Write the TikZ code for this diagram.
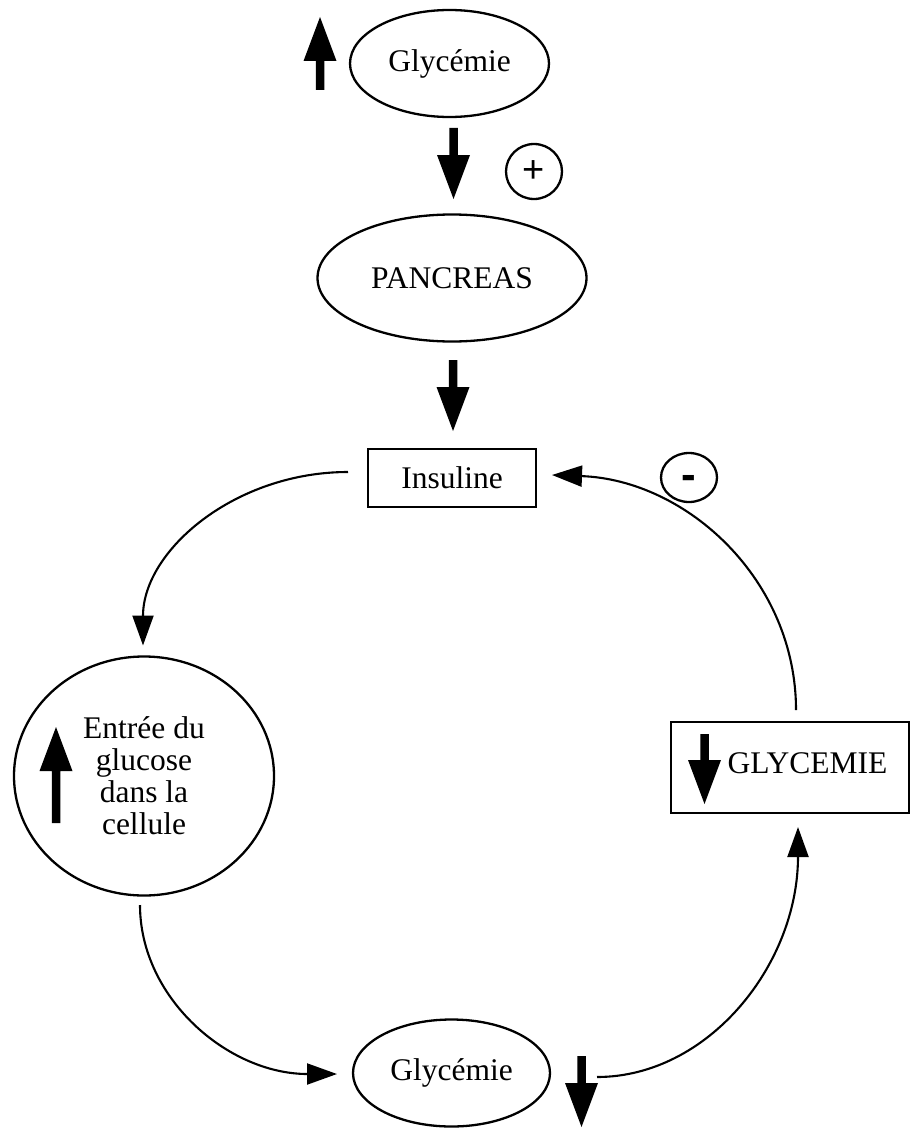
\documentclass[tikz,border=0pt]{standalone}
\usepackage{fontspec}
\setmainfont{Liberation Serif}
\newfontfamily\signfont{Liberation Sans}
\usetikzlibrary{shapes.geometric,arrows.meta,calc}
% thick glyph arrows: x, tail y, tip y
\newcommand\fatdown[3]{\fill (#1-4.25,#2) -- (#1+4.25,#2) -- (#1+4.25,#3-44) -- (#1+16.5,#3-44) -- (#1,#3) -- (#1-16.5,#3-44) -- (#1-4.25,#3-44) -- cycle;}
\newcommand\fatup[3]{\fill (#1-4.25,#2) -- (#1+4.25,#2) -- (#1+4.25,#3+44) -- (#1+16.5,#3+44) -- (#1,#3) -- (#1-16.5,#3+44) -- (#1-4.25,#3+44) -- cycle;}
\tikzset{
  shp/.style={draw, line width=2.3pt, inner sep=0pt, outer sep=0pt},
  oval/.style={shp, ellipse},
  box/.style={shp, rectangle},
  conn/.style={line width=2.1pt, -{Triangle[length=30pt,width=21pt]}}
}
\begin{document}
\begin{tikzpicture}[x=1pt,y=-1pt,font=\fontsize{31.5}{32}\selectfont]
\useasboundingbox (0,0) rectangle (911,1129);
% nodes
\node[oval, minimum width=199pt, minimum height=107pt] (top) at (449.5,63.5) {Glycémie};
\node[oval, minimum width=56pt, minimum height=55pt] (plus) at (534,171.5) {\signfont\fontsize{38}{38}\selectfont +};
\node[oval, minimum width=269pt, minimum height=127pt] (pan) at (452,278) {PANCREAS};
\node[box, minimum width=168pt, minimum height=58pt] (ins) at (452,478) {Insuline};
\node[oval, minimum width=56pt, minimum height=49pt, text height=24.6pt, text depth=0pt] (minus) at (689,477.5) {\signfont\bfseries\fontsize{44}{44}\selectfont -};
\node[oval, minimum width=260pt, minimum height=239pt, align=center] (cell) at (144,776) {Entrée du\\glucose\\dans la\\cellule};
\node[box, minimum width=238pt, minimum height=91pt, text height=12pt, text depth=0pt] (gly) at (790,767.5) {\hspace*{35pt}GLYCEMIE};
\node[oval, minimum width=197pt, minimum height=107pt] (bot) at (451.5,1073) {Glycémie};
% thick arrows
\fatup{320}{90}{17}
\fatdown{453.5}{128}{199}
\fatdown{453}{360}{431}
\fatup{56}{823}{727}
\fatdown{704.5}{734}{804}
\fatdown{581.5}{1056}{1127}
% connectors
\draw[conn] ($(ins.west)+(-20,-6)$) .. controls +(-113,0) and +(0,-95) .. ($(cell.north)+(-1,-11)$);
\draw[conn] ($(cell.south)+(-4,9.5)$) .. controls +(0,93) and +(-109,0) .. ($(bot.west)+(-16,1)$);
\draw[conn] ($(bot.east)+(47,4)$) .. controls +(111,0) and +(0,138) .. ($(gly.south)+(8,14)$);
\draw[conn] ($(gly.north)+(6,-12)$) .. controls +(0,-130) and +(135,5) .. ($(ins.east)+(16,-3)$);
\end{tikzpicture}
\end{document}
